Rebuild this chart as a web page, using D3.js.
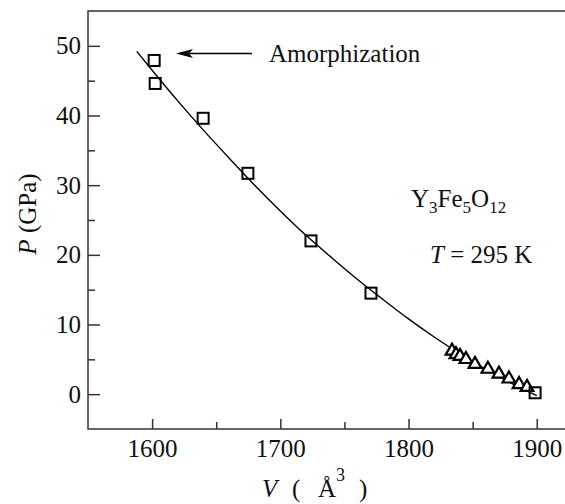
<!DOCTYPE html>
<html lang="en">
<head>
<meta charset="UTF-8">
<title>P-V Y3Fe5O12</title>
<script src="https://d3js.org/d3.v7.min.js"></script>
<style>
  body { margin: 0; background: #fff; }
  text { font-family: "Liberation Serif", "Times New Roman", serif; fill: #111; }
  .axis path, .axis line { stroke: #333; stroke-width: 1.5; }
  .fit { fill: none; stroke: #000; stroke-width: 1.4; }
  .sq { fill: none; stroke: #000; stroke-width: 2; }
  .tri { fill: #fff; stroke: #000; stroke-width: 2.2; }
</style>
</head>
<body>
<svg id="chart" width="565" height="504"></svg>
<script>
// squares (high pressure run)
const squareV = [1601.6, 1602.4, 1639.8, 1674.7, 1723.9, 1770.7, 1898.7];
const squareP = [47.9, 44.6, 39.6, 31.7, 22.0, 14.5, 0.2];

// triangles (low pressure run)
const triV = [1833.9, 1837.0, 1840.1, 1844.8, 1851.8, 1861.9, 1870.5, 1878.3, 1886.2, 1892.4];
const triP = [6.2, 5.7, 5.45, 5.0, 4.3, 3.6, 2.9, 2.2, 1.4, 1.0];

// fitted EOS curve
const fitV = [1588, 1600, 1620, 1640, 1660, 1680, 1700, 1720, 1740, 1760, 1780, 1800, 1820, 1840, 1860, 1880, 1900];
const fitP = [49.2, 46.5, 42.1, 37.9, 33.9, 30.0, 26.3, 22.8, 19.6, 16.5, 13.6, 10.8, 8.2, 5.8, 3.6, 1.6, -0.2];

const xMajor = [1600, 1700, 1800, 1900];
const xMinor = [1650, 1750, 1850];
const yMajor = [0, 10, 20, 30, 40, 50];
const yMinor = [5, 15, 25, 35, 45];

const serif = "'Liberation Serif', 'Times New Roman', serif";
const svg = d3.select("#chart");

const x = d3.scaleLinear().domain([1550, 1920]).range([88, 562.4]);
const y = d3.scaleLinear().domain([-5, 55]).range([429, 11]);

// frame
svg.append("rect")
  .attr("x", x(1550)).attr("y", y(55))
  .attr("width", 565 - x(1550) + 2).attr("height", y(-5) - y(55))
  .attr("fill", "none").attr("stroke", "#333").attr("stroke-width", 1.5);

function styleAxis(g) {
  g.attr("font-family", serif).attr("font-size", 25);
  g.select(".domain").remove();
  g.selectAll("text").attr("fill", "#111");
}

// x axis
svg.append("g").attr("class", "axis")
  .attr("transform", `translate(0,${y(-5)})`)
  .call(d3.axisBottom(x).tickValues(xMajor).tickFormat(d3.format("d"))
    .tickSizeInner(-10).tickSizeOuter(0).tickPadding(10))
  .call(styleAxis);
svg.append("g").attr("class", "axis")
  .attr("transform", `translate(0,${y(-5)})`)
  .call(d3.axisBottom(x).tickValues(xMinor).tickFormat("")
    .tickSizeInner(-7).tickSizeOuter(0))
  .call(styleAxis);

// y axis
svg.append("g").attr("class", "axis")
  .attr("transform", `translate(${x(1550)},0)`)
  .call(d3.axisLeft(y).tickValues(yMajor).tickFormat(d3.format("d"))
    .tickSizeInner(-12).tickSizeOuter(0).tickPadding(7))
  .call(styleAxis);
svg.append("g").attr("class", "axis")
  .attr("transform", `translate(${x(1550)},0)`)
  .call(d3.axisLeft(y).tickValues(yMinor).tickFormat("")
    .tickSizeInner(-7).tickSizeOuter(0))
  .call(styleAxis);

// fit curve
const fitData = fitV.map((v, i) => ({ v, p: fitP[i] }));
svg.append("path")
  .datum(fitData)
  .attr("class", "fit")
  .attr("d", d3.line().x(d => x(d.v)).y(d => y(d.p)).curve(d3.curveMonotoneX));

// triangles
const triData = triV.map((v, i) => ({ v, p: triP[i] }));
svg.append("g").selectAll("path")
  .data(triData)
  .join("path")
  .attr("class", "tri")
  .attr("transform", d => `translate(${x(d.v)},${y(d.p)})`)
  .attr("d", d3.symbol(d3.symbolTriangle, 70));

// squares
const sqData = squareV.map((v, i) => ({ v, p: squareP[i] }));
const s = 11;
svg.append("g").selectAll("rect")
  .data(sqData)
  .join("rect")
  .attr("class", "sq")
  .attr("x", d => x(d.v) - s / 2)
  .attr("y", d => y(d.p) - s / 2)
  .attr("width", s).attr("height", s);

// annotation arrow
svg.append("line")
  .attr("x1", 252).attr("y1", 53.5).attr("x2", 180).attr("y2", 53.5)
  .attr("stroke", "#000").attr("stroke-width", 1.3);
svg.append("path")
  .attr("d", "M176,53.5 L193,49 L189,53.5 L193,58 Z").attr("fill", "#000");

svg.append("text").attr("x", 269).attr("y", 62).attr("font-size", 25).text("Amorphization");

// compound label
const comp = svg.append("text").attr("x", 411).attr("y", 207).attr("font-size", 25);
comp.append("tspan").text("Y");
comp.append("tspan").attr("font-size", 17).attr("dy", 6).text("3");
comp.append("tspan").attr("dy", -6).text("Fe");
comp.append("tspan").attr("font-size", 17).attr("dy", 6).text("5");
comp.append("tspan").attr("dy", -6).text("O");
comp.append("tspan").attr("font-size", 17).attr("dy", 6).text("12");

const temp = svg.append("text").attr("x", 430).attr("y", 263).attr("font-size", 25);
temp.append("tspan").attr("font-style", "italic").text("T");
temp.append("tspan").text(" = 295 K");

// axis titles
const xt = svg.append("text").attr("y", 497).attr("font-size", 25);
xt.append("tspan").attr("x", 262).attr("font-style", "italic").text("V");
xt.append("tspan").attr("x", 292).text("(");
xt.append("tspan").attr("x", 318).text("Å");
xt.append("tspan").attr("font-size", 18).attr("dy", -16).text("3");
xt.append("tspan").attr("x", 359).attr("dy", 16).text(")");

const yt = svg.append("text")
  .attr("transform", "translate(36,214) rotate(-90)")
  .attr("text-anchor", "middle").attr("font-size", 25);
yt.append("tspan").attr("font-style", "italic").text("P");
yt.append("tspan").text("  (GPa)");
</script>
</body>
</html>
